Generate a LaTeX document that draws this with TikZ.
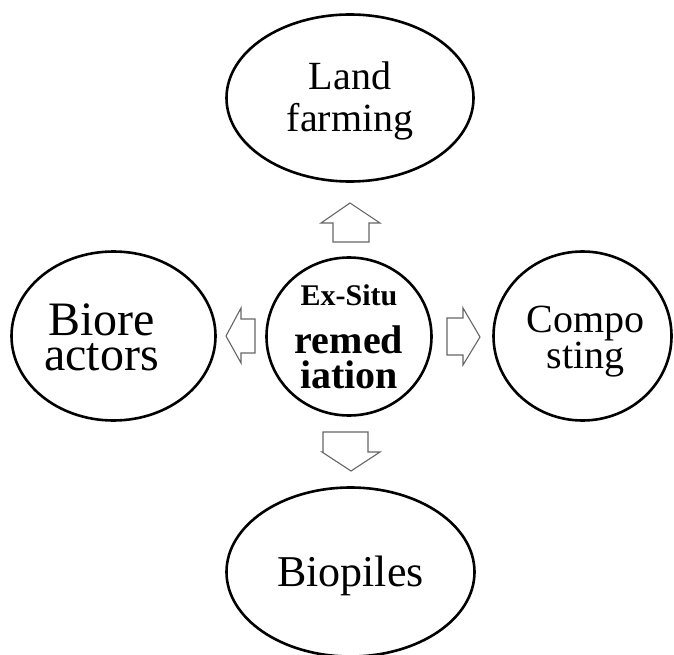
\documentclass[tikz,border=0pt]{standalone}
\usepackage{fontspec}
\setmainfont{Liberation Serif}
\usepackage{tikz}
\usetikzlibrary{shapes.geometric}

\begin{document}
\begin{tikzpicture}[x=1pt, y=-1pt,
    bubble/.style={draw, ellipse, line width=2.6pt, inner sep=0pt, align=center},
    words/.style={inner sep=0pt, align=center},
    hollow/.style={draw=black!60, line width=1.1pt, fill=white, line join=miter}]
  \useasboundingbox (0,0) rectangle (674,655);
  % centre and the four methods
  \node[bubble, minimum width=165pt, minimum height=158pt,
        font=\fontsize{40}{35}\selectfont\bfseries] (exsitu) at (349,336.5)
    {{\fontsize{30}{30}\selectfont Ex-Situ}\\[13pt]remed\\iation};
  \node[bubble, minimum width=247pt, minimum height=167pt] (land) at (350,98) {};
  \node[bubble, minimum width=204pt, minimum height=169pt] (biore) at (113.5,336) {};
  \node[bubble, minimum width=178pt, minimum height=169pt] (compo) at (582.5,336) {};
  \node[bubble, minimum width=248pt, minimum height=169pt] (biopiles) at (350.5,572) {};
  \node[words, font=\fontsize{40}{42}\selectfont] (land-t)
    at ([yshift=-3pt]land) {Land\\farming};
  \node[words, font=\fontsize{48}{35}\selectfont] (biore-t)
    at ([xshift=-12pt,yshift=-1pt]biore) {Biore\\actors};
  \node[words, font=\fontsize{40}{34}\selectfont] (compo-t)
    at ([xshift=3pt,yshift=-6pt]compo) {Compo\\sting};
  \node[words, font=\fontsize{44}{44}\selectfont] (biopiles-t)
    at ([yshift=-4pt]biopiles) {Biopiles};
  % block arrows
  \draw[hollow] (350,203) -- (380,223) -- (369,223) -- (369,242)
    -- (333,242) -- (333,223) -- (321,223) -- cycle;
  \draw[hollow] (480,337) -- (463,365) -- (463,355) -- (447,355)
    -- (447,318) -- (463,318) -- (463,308) -- cycle;
  \draw[hollow] (351,471) -- (380,452) -- (368,452) -- (368,432)
    -- (323,432) -- (323,452) -- (322,452) -- cycle;
  \draw[hollow] (226,336) -- (241,308) -- (241,319) -- (255,319)
    -- (255,353) -- (241,353) -- (241,363) -- cycle;
\end{tikzpicture}
\end{document}
